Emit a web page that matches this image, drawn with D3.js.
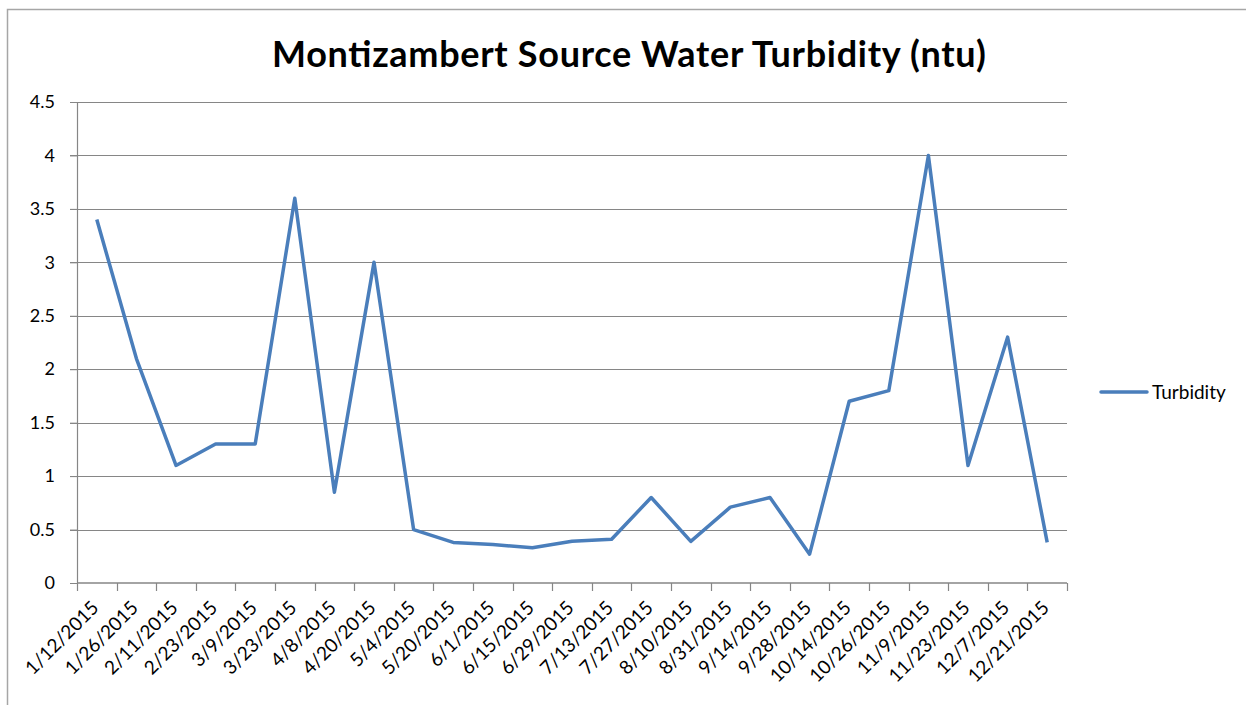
<!DOCTYPE html>
<meta charset="utf-8">
<script src="https://d3js.org/d3.v7.min.js"></script>
<style>
  body { margin: 0; background: #fff; }
  text { font-family: Lato, "Open Sans", sans-serif; fill: #000; }
</style>
<div id="my_dataviz"></div>
<script>

  // the data
  var dates = ["1/12/2015", "1/26/2015", "2/11/2015", "2/23/2015", "3/9/2015", "3/23/2015",
    "4/8/2015", "4/20/2015", "5/4/2015", "5/20/2015", "6/1/2015", "6/15/2015", "6/29/2015",
    "7/13/2015", "7/27/2015", "8/10/2015", "8/31/2015", "9/14/2015", "9/28/2015",
    "10/14/2015", "10/26/2015", "11/9/2015", "11/23/2015", "12/7/2015", "12/21/2015"];
  var turbidity = [3.4, 2.1, 1.1, 1.3, 1.3, 3.6, 0.85, 3.0, 0.5, 0.38, 0.36, 0.33, 0.39,
    0.41, 0.8, 0.39, 0.71, 0.8, 0.27, 1.7, 1.8, 4.0, 1.1, 2.3, 0.38];
  var yTicks = [0, 0.5, 1, 1.5, 2, 2.5, 3, 3.5, 4, 4.5];

  var W = 1246, H = 705;
  var margin = {top: 102, left: 77, right: 1246 - 1067, bottom: 705 - 583};
  var width = W - margin.left - margin.right,
      height = H - margin.top - margin.bottom;

  var root = d3.select("#my_dataviz").append("svg")
      .attr("width", W).attr("height", H);

  // chart area border (only top and left edges show in the picture)
  root.append("path")
      .attr("d", "M7.5," + H + "V9.5H" + W)
      .attr("fill", "none").attr("stroke", "#a6a6a6").attr("stroke-width", 1.5);

  // title
  root.append("text")
      .attr("x", 629).attr("y", 67)
      .attr("text-anchor", "middle")
      .attr("textLength", 714)
      .attr("lengthAdjust", "spacing")
      .style("font-size", "36px").style("font-weight", "bold")
      .text("Montizambert Source Water Turbidity (ntu)");

  var svg = root.append("g")
      .attr("transform", "translate(" + margin.left + "," + margin.top + ")");

  var x = d3.scaleBand().domain(dates).range([0, width]);
  var y = d3.scaleLinear().domain([0, 4.5]).range([height, 0]);

  // horizontal gridlines
  svg.append("g")
    .selectAll("line")
    .data(yTicks.filter(function(d) { return d > 0; }))
    .enter().append("line")
      .attr("x1", -7).attr("x2", width)
      .attr("y1", function(d) { return Math.round(y(d)) + 0.5; })
      .attr("y2", function(d) { return Math.round(y(d)) + 0.5; })
      .attr("stroke", "#868686").attr("stroke-width", 1);

  // y axis
  var yAxis = svg.append("g")
      .call(d3.axisLeft(y).tickValues(yTicks).tickSize(7).tickSizeOuter(0)
        .tickFormat(function(d) { return d; }));
  yAxis.selectAll("path, line").attr("stroke", "#868686");
  yAxis.select(".domain").attr("stroke-width", 1.2);
  yAxis.selectAll("text")
      .attr("x", -22)
      .style("font-size", "18px")
      .style("font-family", "Lato, 'Open Sans', sans-serif");

  // x axis, tick marks sit between categories
  var bounds = d3.range(dates.length + 1).map(function(i) { return i * x.step(); });
  var xg = svg.append("g").attr("transform", "translate(0," + height + ")");
  xg.append("line")
      .attr("x1", 0).attr("x2", width)
      .attr("stroke", "#868686").attr("stroke-width", 1.5);
  xg.selectAll(".tk")
    .data(bounds)
    .enter().append("line")
      .attr("class", "tk")
      .attr("x1", function(d) { return Math.round(d) + 0.5; })
      .attr("x2", function(d) { return Math.round(d) + 0.5; })
      .attr("y1", 0).attr("y2", 8)
      .attr("stroke", "#868686").attr("stroke-width", 1.2);
  xg.selectAll(".lbl")
    .data(dates)
    .enter().append("text")
      .attr("class", "lbl")
      .attr("text-anchor", "end")
      .attr("transform", function(d) {
        return "translate(" + (x(d) + x.bandwidth() / 2 + 3) + ",26) rotate(-45)";
      })
      .style("font-size", "19px")
      .text(function(d) { return d; });

  // the line
  var line = d3.line()
      .x(function(d, i) { return x(dates[i]) + x.bandwidth() / 2; })
      .y(function(d) { return y(d); });
  svg.append("path")
      .datum(turbidity)
      .attr("fill", "none")
      .attr("stroke", "#4a7ebb")
      .attr("stroke-width", 3.5)
      .attr("stroke-linejoin", "round")
      .attr("d", line);

  // legend
  var leg = root.append("g").attr("transform", "translate(1101,392)");
  leg.append("line")
      .attr("x1", 0).attr("x2", 46)
      .attr("stroke", "#4a7ebb").attr("stroke-width", 3.5).attr("stroke-linecap", "round");
  leg.append("text")
      .attr("x", 51).attr("y", 6.5)
      .style("font-size", "19px")
      .text("Turbidity");

</script>
